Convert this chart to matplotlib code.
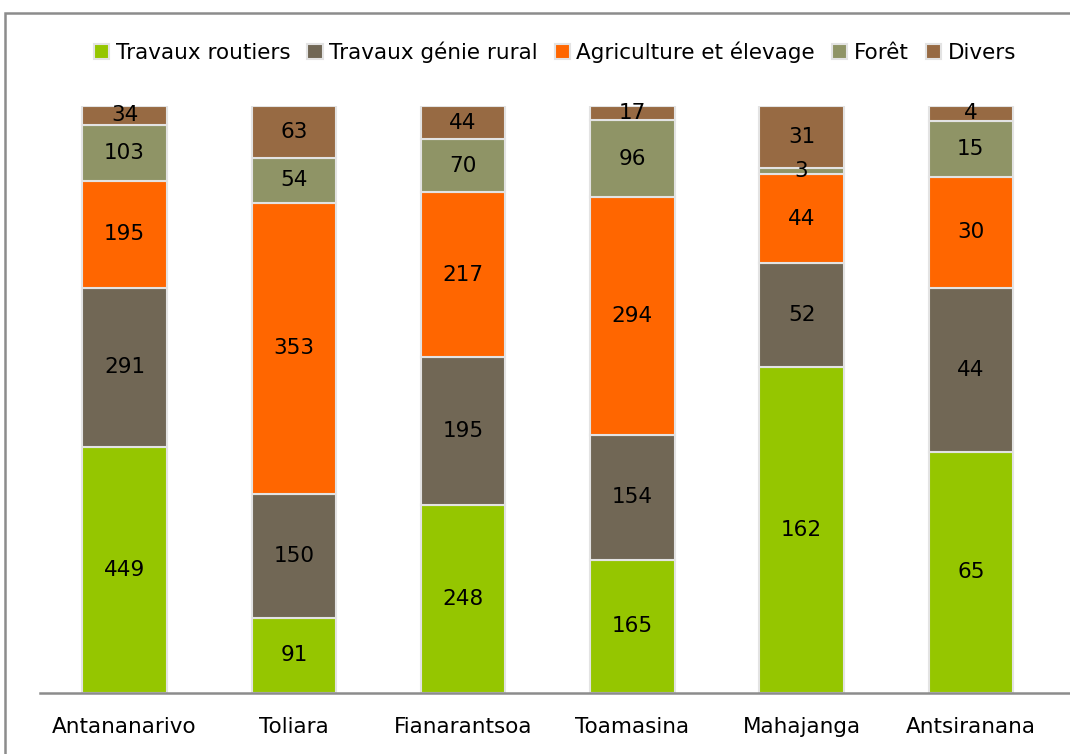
import matplotlib
matplotlib.use("Agg")
import matplotlib.pyplot as plt
from matplotlib.patches import Rectangle
import numpy as np

categories = ["Antananarivo", "Toliara", "Fianarantsoa", "Toamasina", "Mahajanga", "Antsiranana"]
series_names = ["Travaux routiers", "Travaux génie rural", "Agriculture et élevage", "Forêt", "Divers"]
travaux_routiers = [449, 91, 248, 165, 162, 65]
travaux_genie_rural = [291, 150, 195, 154, 52, 44]
agriculture_elevage = [195, 353, 217, 294, 44, 30]
foret = [103, 54, 70, 96, 3, 15]
divers = [34, 63, 44, 17, 31, 4]
colors = ["#95C600", "#716755", "#FF6600", "#8F9466", "#976A43"]

series = [travaux_routiers, travaux_genie_rural, agriculture_elevage, foret, divers]
data = np.array(series, dtype=float)
totals = data.sum(axis=0)
pct = data / totals

W, H = 1070, 754
fig = plt.figure(figsize=(W / 100, H / 100), dpi=100)
fig.patches.append(Rectangle((5 / W, -0.1), 1.2, 1 - 13 / H + 0.1, transform=fig.transFigure,
                             fill=False, edgecolor="#8C8C8C", linewidth=1.8, zorder=0))

ax_left, ax_right = 40 / W, 1070 / W
ax_bottom, ax_top = 1 - 693 / H, 1 - 106 / H
ax = fig.add_axes([ax_left, ax_bottom, ax_right - ax_left, ax_top - ax_bottom])
ax.set_facecolor("none")

x = np.arange(len(categories))
bottom = np.zeros(len(categories))
for i, (name, vals) in enumerate(zip(series_names, pct)):
    bars = ax.bar(x, vals, width=0.5, bottom=bottom, color=colors[i], edgecolor="#E3E3E3",
                  linewidth=1.5, label=name, zorder=2)
    for j, b in enumerate(bars):
        ax.text(x[j], bottom[j] + vals[j] / 2, str(int(data[i, j])), ha="center", va="center",
                fontsize=15.5, color="black", zorder=3)
    bottom += vals

ax.set_ylim(0, 1)
ax.set_xlim(-0.5, 5.5 + (1070 - 1055.5) / 169)
ax.set_yticks([])
ax.set_xticks(x)
ax.set_xticklabels(categories, fontsize=15.5)
ax.tick_params(axis="x", length=0, pad=17)
for s in ["top", "right", "left"]:
    ax.spines[s].set_visible(False)
ax.spines["bottom"].set_color("#8C8C8C")
ax.spines["bottom"].set_linewidth(1.8)

handles, labels = ax.get_legend_handles_labels()
fig.legend(handles, labels, loc="center", bbox_to_anchor=(555 / W, 1 - 52 / H), ncol=5,
           frameon=False, fontsize=15.5, handlelength=0.7, handleheight=0.7, handletextpad=0.3,
           columnspacing=0.8)

fig.savefig("out.png", dpi=100)
